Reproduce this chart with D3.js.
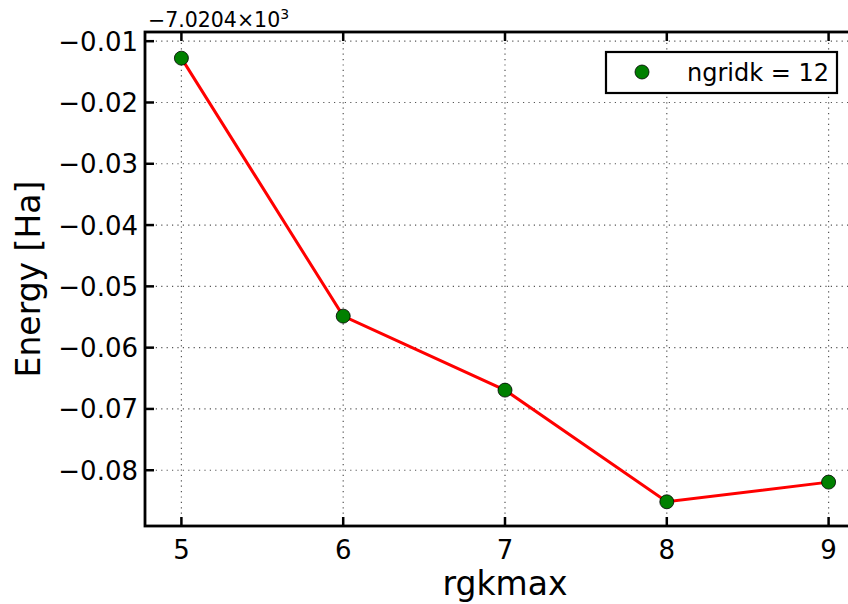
<!DOCTYPE html>
<html>
<head>
<meta charset="utf-8">
<script src="https://cdn.jsdelivr.net/npm/d3@7"></script>
<style>
  body { margin: 0; background: #fff; }
  svg { display: block; font-family: "DejaVu Sans", sans-serif; }
</style>
</head>
<body>
<svg id="chart" width="848" height="604"></svg>
<script>
// rgkmax convergence, energies relative to the offset -7.0204e3 Ha
let rgkmax = [5, 6, 7, 8, 9];
let energy = [-0.01277, -0.05486, -0.06693, -0.08515, -0.08194];
let xTicks = [5, 6, 7, 8, 9];
let yTicks = [-0.01, -0.02, -0.03, -0.04, -0.05, -0.06, -0.07, -0.08];
let seriesLabel = "ngridk = 12";

let svg = d3.select("#chart");

// axes box (right side runs past the picture edge)
let axL = 145, axR = 865, axT = 32, axB = 526;

let x = d3.scaleLinear().domain([4.775, 9.225]).range([axL, axR]);
let y = d3.scaleLinear().domain([-0.0085, -0.0891]).range([axT, axB]);

// grid
let grid = svg.append("g")
    .attr("stroke", "#555")
    .attr("stroke-width", 1.2)
    .attr("stroke-dasharray", "1.2,4.2");
grid.selectAll(".gx")
    .data(xTicks)
    .join("line")
    .attr("x1", d => x(d)).attr("x2", d => x(d))
    .attr("y1", axT).attr("y2", axB);
grid.selectAll(".gy")
    .data(yTicks)
    .join("line")
    .attr("x1", axL).attr("x2", axR)
    .attr("y1", d => y(d)).attr("y2", d => y(d));

// line and markers
let line = d3.line()
    .x((d, i) => x(rgkmax[i]))
    .y(d => y(d));

svg.append("path")
    .datum(energy)
    .attr("d", line)
    .attr("fill", "none")
    .attr("stroke", "#ff0000")
    .attr("stroke-width", 3);

svg.selectAll(".pt")
    .data(energy)
    .join("circle")
    .attr("cx", (d, i) => x(rgkmax[i]))
    .attr("cy", d => y(d))
    .attr("r", 7)
    .attr("fill", "#008000")
    .attr("stroke", "#000")
    .attr("stroke-width", 0.8);

// ticks (inward, on bottom, top and left)
let tk = svg.append("g").attr("stroke", "#000").attr("stroke-width", 2.5);
tk.selectAll(".tb")
    .data(xTicks)
    .join("line")
    .attr("x1", d => x(d)).attr("x2", d => x(d))
    .attr("y1", axB).attr("y2", axB - 9);
tk.selectAll(".tt")
    .data(xTicks)
    .join("line")
    .attr("x1", d => x(d)).attr("x2", d => x(d))
    .attr("y1", axT).attr("y2", axT + 9);
tk.selectAll(".tl")
    .data(yTicks)
    .join("line")
    .attr("x1", axL).attr("x2", axL + 9)
    .attr("y1", d => y(d)).attr("y2", d => y(d));

// spines
svg.append("rect")
    .attr("x", axL).attr("y", axT)
    .attr("width", axR - axL).attr("height", axB - axT)
    .attr("fill", "none")
    .attr("stroke", "#000")
    .attr("stroke-width", 2.8);

// tick labels
let fmt = d3.format(".2f");
svg.selectAll(".xl")
    .data(xTicks)
    .join("text")
    .attr("x", d => x(d))
    .attr("y", 559)
    .attr("text-anchor", "middle")
    .attr("font-size", 26)
    .text(d => d);

svg.selectAll(".yl")
    .data(yTicks)
    .join("text")
    .attr("x", 138)
    .attr("y", d => y(d) + 9.5)
    .attr("text-anchor", "end")
    .attr("font-size", 26)
    .text(d => fmt(d));

// offset text
let off = svg.append("text")
    .attr("x", 148)
    .attr("y", 27)
    .attr("font-size", 20.5);
off.append("tspan").text("\u22127.0204\u00d710");
off.append("tspan").attr("dy", -8).attr("font-size", 14).text("3");

// axis labels
svg.append("text")
    .attr("x", (axL + axR) / 2)
    .attr("y", 595)
    .attr("text-anchor", "middle")
    .attr("font-size", 33)
    .text("rgkmax");

svg.append("text")
    .attr("transform", `translate(40,${(axT + axB) / 2}) rotate(-90)`)
    .attr("text-anchor", "middle")
    .attr("font-size", 33)
    .text("Energy [Ha]");

// legend
let lg = svg.append("g");
lg.append("rect")
    .attr("x", 606).attr("y", 52)
    .attr("width", 231).attr("height", 41)
    .attr("fill", "#fff")
    .attr("stroke", "#000")
    .attr("stroke-width", 2.2);
lg.append("circle")
    .attr("cx", 642).attr("cy", 72)
    .attr("r", 7)
    .attr("fill", "#008000")
    .attr("stroke", "#000")
    .attr("stroke-width", 0.8);
lg.append("text")
    .attr("x", 687).attr("y", 81)
    .attr("font-size", 24)
    .text(seriesLabel);
</script>
</body>
</html>
